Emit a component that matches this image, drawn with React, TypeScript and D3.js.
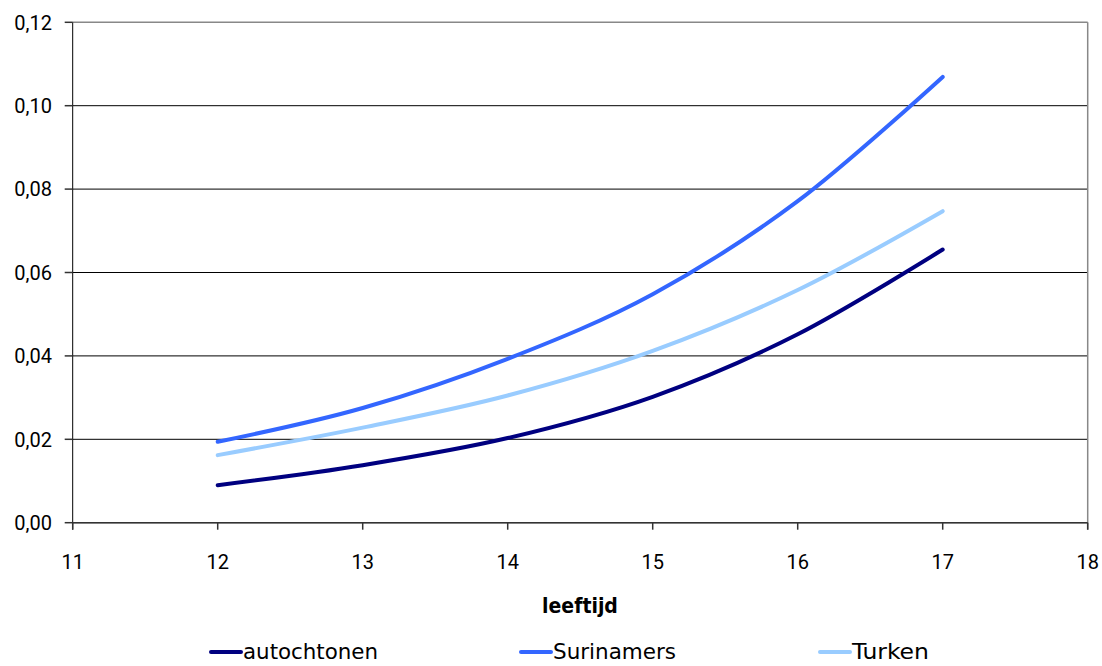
import React from "react";
import * as d3 from "d3";

const ages = [12, 13, 14, 15, 16, 17];
const autochtonen = [0.009, 0.0138, 0.0203, 0.0302, 0.0452, 0.0655];
const surinamers = [0.0194, 0.0275, 0.0393, 0.0548, 0.0771, 0.1069];
const turken = [0.0162, 0.0228, 0.0305, 0.0412, 0.0558, 0.0747];
const seriesNames = ["autochtonen", "Surinamers", "Turken"];
const seriesColors = ["#000080", "#3366FF", "#99CCFF"];
const xTicks = [11, 12, 13, 14, 15, 16, 17, 18];
const yTicks = [0, 0.02, 0.04, 0.06, 0.08, 0.1, 0.12];
const xTitle = "leeftijd";

export default function App() {
  const W = 1102, H = 666;
  const x = d3.scaleLinear().domain([11, 18]).range([72.7, 1087.7]);
  const y = d3.scaleLinear().domain([0, 0.12]).range([522.7, 22.3]);
  const fmt = (v: number) => v.toFixed(2).replace(".", ",");
  const line = d3
    .line<[number, number]>()
    .x((d) => x(d[0]))
    .y((d) => y(d[1]))
    .curve(d3.curveCardinal.tension(0));
  const all = [autochtonen, surinamers, turken];
  const legendX = [211, 521, 820];
  const legendW = [135, 123, 77];
  const tickFont = "Roboto, 'Liberation Sans', sans-serif";
  const narrow = "'Liberation Sans Narrow', 'DejaVu Sans Condensed', 'Liberation Sans', sans-serif";
  return (
    <svg
      width={W}
      height={H}
      style={{ position: "absolute", left: 0, top: 0, background: "#fff" }}
    >
      {yTicks.map((t) => (
        <line
          key={"g" + t}
          x1={x(11)}
          x2={x(18)}
          y1={y(t)}
          y2={y(t)}
          stroke={t === 0.12 ? "#888" : "#000"}
          strokeWidth={t === 0.12 ? 1.5 : 1}
        />
      ))}
      <line x1={x(18)} x2={x(18)} y1={y(0.12)} y2={y(0) + 7} stroke="#888" strokeWidth={1.5} />
      <line x1={x(11)} x2={x(11)} y1={y(0.12)} y2={y(0) + 7} stroke="#000" strokeWidth={1} />
      <line x1={x(11)} x2={x(18)} y1={y(0)} y2={y(0)} stroke="#333" strokeWidth={1.5} />
      {yTicks.map((t) => (
        <g key={"y" + t}>
          <line x1={x(11) - 8} x2={x(11)} y1={y(t)} y2={y(t)} stroke="#333" strokeWidth={1.5} />
          <text
            x={52}
            y={y(t)}
            dy="0.36em"
            textAnchor="end"
            fontFamily={tickFont}
            fontSize={20}
            fill="#000"
          >
            {fmt(t)}
          </text>
        </g>
      ))}
      {xTicks.map((t) => (
        <g key={"x" + t}>
          <line x1={x(t)} x2={x(t)} y1={y(0)} y2={y(0) + 7} stroke="#333" strokeWidth={1.5} />
          <text
            x={x(t)}
            y={569}
            textAnchor="middle"
            fontFamily={tickFont}
            fontSize={20}
            fill="#000"
          >
            {t}
          </text>
        </g>
      ))}
      {all.map((vals, i) => (
        <path
          key={"s" + i}
          d={line(ages.map((a, j) => [a, vals[j]] as [number, number])) || ""}
          fill="none"
          stroke={seriesColors[i]}
          strokeWidth={4}
          strokeLinecap="round"
          strokeLinejoin="round"
        />
      ))}
      <text
        x={580}
        y={613}
        textAnchor="middle"
        fontFamily={narrow}
        fontWeight="bold"
        fontSize={21}
        fill="#000"
      >
        {xTitle}
      </text>
      {seriesNames.map((n, i) => (
        <g key={"l" + n}>
          <line
            x1={legendX[i]}
            x2={legendX[i] + 30}
            y1={652}
            y2={652}
            stroke={seriesColors[i]}
            strokeWidth={4}
            strokeLinecap="round"
          />
          <text
            x={legendX[i] + 32}
            y={659}
            fontFamily={narrow}
            fontSize={21}
            textLength={legendW[i]}
            lengthAdjust="spacingAndGlyphs"
            fill="#000"
          >
            {n}
          </text>
        </g>
      ))}
    </svg>
  );
}
